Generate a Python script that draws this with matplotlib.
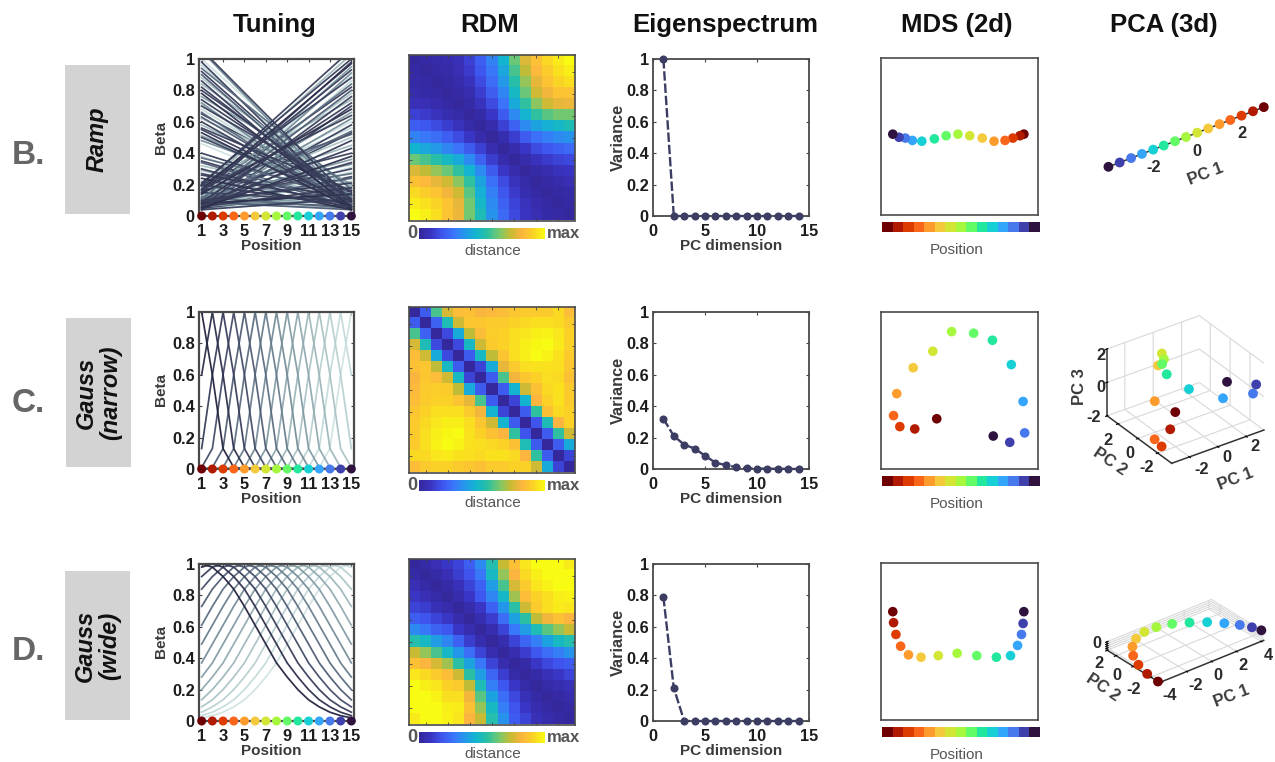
import numpy as np
import matplotlib
matplotlib.use("Agg")
import matplotlib.pyplot as plt
from matplotlib.colors import LinearSegmentedColormap

plt.rcParams['font.family'] = ['Liberation Sans', 'DejaVu Sans']

W, H = 1275, 762

# column and row names
col_titles = ["Tuning", "RDM", "Eigenspectrum", "MDS (2d)", "PCA (3d)"]
row_letters = ["B.", "C.", "D."]
row_names = ["Ramp", "Gauss\n(narrow)", "Gauss\n(wide)"]

positions = list(range(1, 16))
pos_ticks = [1, 3, 5, 7, 9, 11, 13, 15]
beta_ticks = [0, 0.2, 0.4, 0.6, 0.8, 1]

# position colours, 1 to 15
pos_colors = ["#6e0004", "#af1a00", "#dd3b00", "#f9661a", "#fe9b2d", "#f5c93c", "#d3e535", "#a6f83e",
              "#63fb66", "#22e89e", "#17d0d6", "#33a6fb", "#4679ec", "#3f40ab", "#30123f"]
# tuning line colours, dark to pale
tune_colors = ["#23233f", "#2d2f4c", "#383d5a", "#444c68", "#4f5c74", "#5b6c80", "#677c8c", "#748c98",
               "#819ba4", "#8fa9af", "#9db6ba", "#abc3c5", "#b8cfd0", "#c4dada", "#cfe3e2"]
rdm_anchors = ["#35289c", "#3a34c2", "#3f55ee", "#3b75fb", "#2498ea", "#12b6cf", "#2cc0a2",
               "#77c96e", "#c7bc34", "#fdb53f", "#fbd426", "#f8fb12"]

# ramp tuning: value at position 1 and at position 15
ramp_down_left = [1.06, 1.05, 1.0, 0.98, 0.96, 0.94, 0.92, 0.9, 0.88, 0.86, 0.84, 0.82, 0.8, 0.78, 0.76, 0.74,
                  0.72, 0.71, 0.7, 0.68, 0.66, 0.65, 0.63, 0.62, 0.6, 0.58, 0.56, 0.55, 0.53, 0.51, 0.5, 0.48,
                  0.46, 0.4, 0.38, 0.37, 0.35, 0.34, 0.32, 0.3, 0.29, 0.27, 0.26, 0.24, 0.22, 0.2, 0.19, 0.17,
                  0.15, 0.14, 0.12, 0.1, 0.09, 0.08]
ramp_down_right = [0.1, 0.07, 0.14, 0.05, 0.1, 0.17, 0.08, 0.06, 0.12, 0.04, 0.18, 0.09, 0.13, 0.06, 0.2, 0.11,
                   0.05, 0.08, 0.15, 0.1, 0.04, 0.13, 0.07, 0.19, 0.06, 0.11, 0.16, 0.08, 0.05, 0.12, 0.09, 0.14,
                   0.06, 0.1, 0.04, 0.13, 0.08, 0.06, 0.11, 0.05, 0.09, 0.07, 0.12, 0.04, 0.1, 0.06, 0.08, 0.05,
                   0.09, 0.07, 0.05, 0.06, 0.04, 0.05]
ramp_up_left = [0.2, 0.18, 0.21, 0.14, 0.17, 0.1, 0.16, 0.07, 0.13, 0.19, 0.05, 0.11, 0.15, 0.08, 0.12, 0.06,
                0.2, 0.09, 0.04, 0.14, 0.1, 0.17, 0.07, 0.12, 0.05, 0.15, 0.09, 0.06, 0.19, 0.11, 0.04, 0.13,
                0.08, 0.16, 0.05, 0.1, 0.07, 0.12, 0.04, 0.09, 0.06, 0.11, 0.05, 0.08, 0.07, 0.1, 0.04, 0.06,
                0.05, 0.08, 0.06, 0.04, 0.07, 0.05]
ramp_up_right = [1.06, 1.03, 1.0, 0.98, 0.97, 0.95, 0.93, 0.91, 0.89, 0.88, 0.86, 0.84, 0.82, 0.8, 0.78, 0.76,
                 0.74, 0.72, 0.7, 0.68, 0.66, 0.64, 0.62, 0.6, 0.58, 0.56, 0.54, 0.53, 0.52, 0.5, 0.48, 0.45,
                 0.43, 0.4, 0.38, 0.36, 0.34, 0.33, 0.31, 0.3, 0.28, 0.27, 0.25, 0.24, 0.22, 0.21, 0.19, 0.18,
                 0.16, 0.14, 0.13, 0.11, 0.1, 0.09]
# Gaussian tuning: height by distance from the peak
narrow_profile = [1.0, 0.6, 0.13, 0.01, 0.0, 0.0, 0.0, 0.0, 0.0, 0.0, 0.0, 0.0, 0.0, 0.0, 0.0]
wide_profile = [1.0, 0.98, 0.92, 0.84, 0.73, 0.61, 0.49, 0.37, 0.28, 0.2, 0.135, 0.09, 0.056, 0.034, 0.02]

# RDM upper triangles, row by row
rdm_ramp = [
    [0, .02, .03, .04, .07, .13, .21, .31, .45, .62, .76, .85, .92, .96, 1.0],
    [0, .02, .03, .06, .11, .19, .28, .41, .58, .72, .83, .89, .94, .97],
    [0, .02, .04, .08, .16, .25, .37, .53, .67, .78, .86, .91, .93],
    [0, .02, .05, .12, .21, .32, .48, .62, .74, .8, .86, .86],
    [0, .03, .08, .16, .27, .42, .55, .66, .74, .78, .79],
    [0, .03, .1, .2, .33, .45, .55, .6, .63, .63],
    [0, .04, .13, .22, .33, .4, .44, .47, .5],
    [0, .05, .12, .2, .26, .3, .33, .35],
    [0, .04, .1, .16, .19, .22, .24],
    [0, .04, .08, .11, .14, .15],
    [0, .03, .05, .08, .09],
    [0, .02, .04, .06],
    [0, .02, .03],
    [0, .02],
    [0]]
rdm_narrow = [
    [0, .2, .58, .75, .84, .85, .81, .83, .84, .87, .88, .88, .88, .92, .84],
    [0, .22, .5, .74, .87, .87, .88, .88, .9, .92, .93, .93, .92, .88],
    [0, .15, .42, .72, .84, .89, .9, .93, .95, .97, .98, .95, .9],
    [0, .15, .48, .74, .88, .9, .93, .97, .99, 1, .96, .9],
    [0, .2, .48, .72, .86, .93, .97, 1, .98, .94, .88],
    [0, .14, .42, .78, .88, .93, .94, .94, .93, .87],
    [0, .2, .58, .8, .87, .9, .93, .92, .85],
    [0, .2, .45, .74, .85, .92, .94, .88],
    [0, .14, .45, .82, .9, .94, .88],
    [0, .2, .55, .85, .92, .9],
    [0, .18, .5, .82, .9],
    [0, .2, .55, .74],
    [0, .2, .42],
    [0, .14],
    [0]]
rdm_wide = [
    [0, .03, .06, .1, .14, .21, .33, .52, .73, .85, .95, 1, 1, 1, .96],
    [0, .03, .06, .12, .18, .28, .48, .67, .82, .92, .97, 1, 1, 1],
    [0, .03, .07, .14, .22, .38, .58, .75, .88, .95, .98, 1, 1],
    [0, .04, .1, .19, .32, .47, .68, .84, .9, .93, .97, .98],
    [0, .04, .1, .22, .36, .54, .74, .88, .93, .96, .95],
    [0, .05, .12, .25, .4, .54, .72, .8, .85, .82],
    [0, .05, .14, .28, .38, .5, .6, .67, .73],
    [0, .05, .14, .23, .3, .4, .48, .52],
    [0, .05, .12, .19, .25, .3, .35],
    [0, .03, .1, .15, .18, .2],
    [0, .03, .07, .1, .14],
    [0, .03, .05, .07],
    [0, .02, .04],
    [0, .02],
    [0]]

# variance per PC
pc_dims = list(range(1, 15))
eig_ramp = [1.0, 0, 0, 0, 0, 0, 0, 0, 0, 0, 0, 0, 0, 0]
eig_narrow = [0.32, 0.21, 0.155, 0.13, 0.085, 0.04, 0.025, 0.012, 0.005, 0.003, 0.002, 0.001, 0.001, 0.0]
eig_wide = [0.79, 0.21, 0.0, 0, 0, 0, 0, 0, 0, 0, 0, 0, 0, 0]

# MDS coordinates per position
mds_ramp_x = [.82, .77, .68, .58, .44, .29, .13, -.02, -.17, -.32, -.48, -.6, -.69, -.77, -.85]
mds_ramp_y = [.03, .01, -.02, -.05, -.06, -.02, .01, .03, .01, -.03, -.06, -.05, -.02, -.01, .03]
mds_narrow_x = [-.29, -.57, -.76, -.84, -.80, -.59, -.34, -.10, .18, .42, .66, .81, .83, .64, .43]
mds_narrow_y = [-.36, -.49, -.46, -.32, -.04, .29, .50, .75, .73, .64, .33, -.14, -.54, -.66, -.58]
mds_wide_x = [-.85, -.84, -.81, -.75, -.65, -.49, -.27, -.03, .22, .47, .65, .74, .79, .81, .82]
mds_wide_y = [.38, .24, .09, -.06, -.17, -.2, -.18, -.15, -.18, -.2, -.18, -.05, .09, .23, .38]

# PCA coordinates per position
pca_ramp_x = [3.6, 3.1, 2.57, 2.05, 1.55, 1.03, .52, 0, -.51, -1.03, -1.52, -2.04, -2.54, -3.07, -3.59]
pca_narrow_x = [-.86, -2.42, -3.07, -2.94, -1.56, -.61, -.31, -.57, -.76, -.77, .19, 2.07, 2.93, 3.02, 2.24]
pca_narrow_y = [-.35, -2.07, -2.13, -1.24, .72, 1.74, 1.79, 1.2, 1.12, .64, -.23, -.97, -2.76, -2.95, -1.13]
pca_narrow_z = [-1.0, -.8, -1.6, -1.6, -.6, .8, 1.4, 1.4, 1.2, .8, 0, -.8, 0, .6, .2]
pca_wide_x = [-4.54, -4.46, -4.17, -3.71, -3.03, -2.23, -1.29, -.33, .7, 1.65, 2.54, 3.29, 3.91, 4.32, 4.54]
pca_wide_y = [-3.3, -1.95, -.53, .73, 1.78, 2.51, 2.89, 2.88, 2.53, 1.89, 1.13, .23, -.67, -1.48, -2.25]

DARK = "#3a3a3a"
rdm_cmap = LinearSegmentedColormap.from_list("rdm", rdm_anchors)

fig = plt.figure(figsize=(W / 100, H / 100), dpi=100)


def ax_px(l, t, r, b, **kw):
    return fig.add_axes([l / W, 1 - b / H, (r - l) / W, (b - t) / H], **kw)


def txt(x, y, s, **kw):
    kw.setdefault("ha", "center")
    kw.setdefault("va", "center")
    return fig.text(x / W, 1 - y / H, s, **kw)


def style(ax, lw=1.4):
    for s in ax.spines.values():
        s.set_color("#4a4a4a")
        s.set_linewidth(lw)


def full_rdm(tri):
    m = np.zeros((15, 15))
    for i, row in enumerate(tri):
        m[i, i:] = row
    return m + np.triu(m, 1).T


def tick_font(ax):
    for lab in ax.get_xticklabels() + ax.get_yticklabels():
        lab.set_fontsize(11.8)
        lab.set_fontweight("bold")
        lab.set_color("#1c1c1c")


def tuning(ax, curves):
    for vals, c in curves:
        ax.plot(positions, vals, color=c, lw=1.25, alpha=0.95)
    ax.scatter(positions, [0] * 15, c=pos_colors, s=42, zorder=5, clip_on=False, linewidths=0)
    ax.set_xlim(0.75, 15.25)
    ax.set_ylim(0, 1)
    ax.set_xticks(pos_ticks)
    ax.set_yticks(beta_ticks)
    ax.set_yticklabels(["0", "0.2", "0.4", "0.6", "0.8", "1"])
    ax.tick_params(direction="in", length=2.5, width=0.8, color="#444444", pad=3, top=True, right=True)
    tick_font(ax)
    ax.tick_params(axis="x", pad=6)
    style(ax, 1.6)


def ramp_curves():
    out = []
    rows = list(zip(ramp_down_left, ramp_down_right)) + list(zip(ramp_up_left, ramp_up_right))
    shades = [(i * 7) % 15 for i in range(len(rows))]
    order = np.argsort(shades)[::-1]
    for k in order:
        l, r = rows[k]
        c = tune_colors[min(shades[k], 14)] if k % 3 else tune_colors[2]
        vals = np.linspace(l, r, 15)
        out.append((vals, c))
    return out


def gauss_curves(profile):
    out = []
    for peak in range(15):
        vals = [profile[abs(p - 1 - peak)] for p in positions]
        out.append((vals, tune_colors[peak]))
    return out[::-1]


def pca_axes(cx, cy, sizes, elev, azim):
    P = 185
    ax = ax_px(cx - 0.5135 * P, cy + 0.5135 * P - P, cx + 0.4865 * P, cy + 0.5135 * P, projection="3d")
    ax.patch.set_alpha(0)
    ax.set_proj_type("ortho")
    ax.view_init(elev=elev, azim=azim)
    ax.set_box_aspect(sizes, zoom=np.linalg.norm(sizes) / 190.57)
    return ax


def pca_style(ax):
    for axis in (ax.xaxis, ax.yaxis, ax.zaxis):
        axis.set_pane_color((1, 1, 1, 0))
        axis.pane.set_edgecolor("#d0d0d0")
        axis.line.set_color("#333333")
        axis.line.set_linewidth(1.1)
        axis._axinfo["grid"]["color"] = "#d9d9d9"
        axis._axinfo["grid"]["linewidth"] = 0.8
        axis._axinfo["tick"]["color"] = "#333333"
        axis.set_ticklabels([])


label_kw = dict(fontsize=11, fontweight="bold", color=DARK)
tick_kw = dict(fontsize=11.8, fontweight="bold", color="#2a2a2a")

# header
for x, t in zip([275, 490, 725, 957, 1164], col_titles):
    txt(x, 32, t, fontsize=18.5, fontweight="bold", color="#111111", va="baseline")

# row boxes and letters
box_px = [(65, 65, 130, 214), (66, 318, 131, 467), (65, 571, 130, 720)]
for (l, t, r, b), let, name, ly in zip(box_px, row_letters, row_names, [152, 400, 649]):
    a = ax_px(l, t, r, b)
    a.set_facecolor("#d3d3d3")
    a.set_xticks([])
    a.set_yticks([])
    for s in a.spines.values():
        s.set_visible(False)
    txt((l + r) / 2, (t + b) / 2, name, rotation=90, fontsize=17, fontweight="bold", style="italic",
        color="#111111", linespacing=1.05)
    txt(28, ly + 3, let, fontsize=24, fontweight="bold", color="#666666")

tops = [59, 312, 564]
curve_sets = [ramp_curves(), gauss_curves(narrow_profile), gauss_curves(wide_profile)]
rdms = [rdm_ramp, rdm_narrow, rdm_wide]
rdm_tops = [55, 307, 559]
eigs = [eig_ramp, eig_narrow, eig_wide]
mds_x = [mds_ramp_x, mds_narrow_x, mds_wide_x]
mds_y = [mds_ramp_y, mds_narrow_y, mds_wide_y]
mds_tops = [58, 312, 563]

for i in range(3):
    t = tops[i]
    # tuning
    ax = ax_px(199, t, 354, t + 157)
    tuning(ax, curve_sets[i])
    txt(271, t + 187, "Position", **label_kw)
    txt(161, t + 78, "Beta", rotation=90, **label_kw)

    # rdm
    rt = rdm_tops[i]
    ax = ax_px(409, rt, 575, rt + 165.5)
    ax.imshow(full_rdm(rdms[i]), cmap=rdm_cmap, vmin=0, vmax=1, aspect="auto", interpolation="nearest")
    ax.set_xticks(np.arange(1, 15, 2) + 0.0)
    ax.set_yticks(np.arange(1, 15, 2) + 0.0)
    ax.set_xticklabels([])
    ax.set_yticklabels([])
    ax.tick_params(direction="in", length=2, width=0.6, color="#444444", top=True, right=True)
    style(ax, 1.2)
    cb = ax_px(419, rt + 172.5, 545, rt + 184)
    cb.imshow(np.arange(256)[None, :] / 255, cmap=rdm_cmap, aspect="auto")
    cb.axis("off")
    txt(412, rt + 178.5, "0", fontsize=13, fontweight="bold", color="#555555")
    txt(563, rt + 178.5, "max", fontsize=12, fontweight="bold", color="#555555")
    txt(493, rt + 195.5, "distance", fontsize=11, color="#555555")

    # eigenspectrum
    ax = ax_px(653, t, 809, t + 157)
    ax.plot(pc_dims, eigs[i], color="#3c3d63", lw=1.7, ls=(0, (4, 1.2)), marker="o", ms=5.8, clip_on=False, zorder=4,
            markeredgewidth=0)
    ax.set_xlim(0, 15)
    ax.set_ylim(0, 1)
    ax.set_xticks([0, 5, 10, 15])
    ax.set_yticks([0, 0.2, 0.4, 0.6, 0.8, 1])
    ax.set_yticklabels(["0", "0.2", "0.4", "0.6", "0.8", "1"])
    ax.tick_params(direction="in", length=2.5, width=0.8, color="#444444", pad=3, top=True, right=True)
    ax.tick_params(axis="x", pad=6)
    tick_font(ax)
    style(ax, 1.3)
    txt(731, t + 187, "PC dimension", **label_kw)
    txt(618, t + 78, "Variance", rotation=90, fontsize=11.7, fontweight="bold", color=DARK)

    # mds
    mt = mds_tops[i]
    ax = ax_px(881, mt, 1038, mt + 157)
    ax.scatter(mds_x[i], mds_y[i], c=pos_colors, s=48, linewidths=0)
    ax.set_xlim(-1, 1)
    ax.set_ylim(-1, 1)
    ax.set_xticks([])
    ax.set_yticks([])
    style(ax, 1.2)
    bar = ax_px(882, mt + 164, 1040, mt + 174)
    bar.bar(positions, [1] * 15, width=1, color=pos_colors)
    bar.set_xlim(0.5, 15.5)
    bar.set_ylim(0, 1)
    bar.axis("off")
    txt(957, mt + 192, "Position", fontsize=11, color="#555555")

# pca ramp
ax = pca_axes(1186, 137, (220, 1, 1), 22.6, -135)
ax.set_axis_off()
ax.set_xlim(-3.6, 3.6)
ax.plot(pca_ramp_x, [0] * 15, [0] * 15, color="#333333", lw=1.1, zorder=1)
ax.scatter(pca_ramp_x, [0] * 15, [0] * 15, c=pos_colors, s=50, depthshade=False, linewidths=0, zorder=3)
for x, y, s in [(1154, 168, "-2"), (1197, 151, "0"), (1242, 134, "2")]:
    txt(x, y, s, **tick_kw)
txt(1206, 174, "PC 1", rotation=21, fontsize=12, fontweight="bold", color=DARK)

# pca narrow
ax = pca_axes(1185.5, 389.5, (112.6, 112.6, 78), 31, -125)
ax.set_xlim(-3.25, 3.25)
ax.set_ylim(-3.4, 3.1)
ax.set_zlim(-2, 2)
ax.set_xticks([-2, 0, 2])
ax.set_yticks([-2, 0, 2])
ax.set_zticks([-2, 0, 2])
pca_style(ax)
ax.scatter(pca_narrow_x, pca_narrow_y, pca_narrow_z, c=pos_colors, s=50, depthshade=False, linewidths=0)
for x, y, s in [(1202, 470, "-2"), (1227, 458, "0"), (1255, 447, "2"),
                (1147, 467, "-2"), (1130, 453, "0"), (1108, 440, "2"),
                (1094, 418, "-2"), (1101, 387, "0"), (1101, 355, "2")]:
    txt(x, y, s, **tick_kw)
txt(1236, 479, "PC 1", rotation=21, fontsize=12, fontweight="bold", color=DARK)
txt(1110, 462, "PC 2", rotation=-34, fontsize=12, fontweight="bold", color=DARK)
txt(1079, 387, "PC 3", rotation=90, fontsize=12, fontweight="bold", color=DARK)

# pca wide
ax = pca_axes(1185.5, 641, (134, 83, 10), 30, -129)
ax.set_xlim(-4.2, 4.2)
ax.set_ylim(-3, 3)
ax.set_zlim(-1, 1)
ax.set_xticks([-4, -2, 0, 2, 4])
ax.set_yticks([-2, 0, 2])
ax.set_zticks([-1, -0.5, 0, 0.5, 1])
pca_style(ax)
ax.scatter(pca_wide_x, pca_wide_y, [0] * 15, c=pos_colors, s=50, depthshade=False, linewidths=0)
for x, y, s in [(1170, 695, "-4"), (1196, 686, "-2"), (1218, 675, "0"), (1243, 666, "2"), (1268, 656, "4"),
                (1134, 689, "-2"), (1117, 675, "0"), (1099, 663, "2"), (1097, 643, "0")]:
    txt(x, y, s, **tick_kw)
txt(1232, 696, "PC 1", rotation=21, fontsize=12, fontweight="bold", color=DARK)
txt(1103, 688, "PC 2", rotation=-34, fontsize=12, fontweight="bold", color=DARK)

fig.savefig("out.png", dpi=100)
